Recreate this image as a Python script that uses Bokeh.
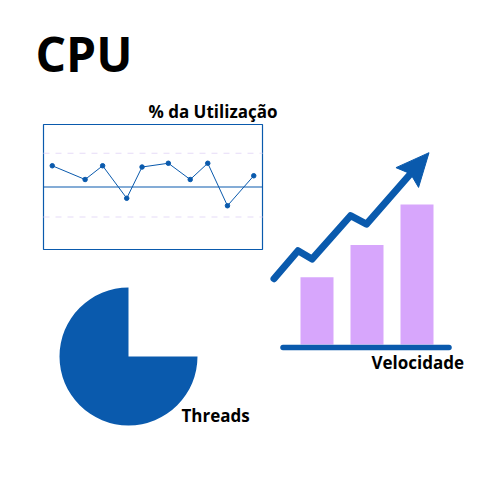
import math
from bokeh.plotting import figure
from bokeh.models import Range1d
from bokeh.core.properties import value
from bokeh.embed import file_html
from bokeh.resources import INLINE

# ---------------- data ----------------
title_text = "CPU"
util_title = "% da Utilização"
util_x = [4, 19, 27, 38, 45, 57, 67, 75, 84, 96]
util_y = [67, 56, 67, 41, 66, 69, 56, 69, 35, 59]
util_limits = [77, 50, 26]          # upper, centre, lower
threads_label = "Threads"
threads_share = [75, 25]            # used / free (%)
vel_label = "Velocidade"
vel_index = [1, 2, 3]
vel_values = [48, 71, 100]
trend_x = [0.14, 0.62, 0.90, 1.67, 1.99, 3.24]
trend_y = [47, 67, 61, 92, 86, 137]

BLUE = "#0a5aad"
PURPLE = "#d7a6fc"
DASH = "#e6dcf8"
FONT = value("Open Sans")

p = figure(width=500, height=500, output_backend="svg", toolbar_location=None,
           x_range=Range1d(0, 500), y_range=Range1d(0, 500), min_border=0)
p.axis.visible = False
p.grid.visible = False
p.outline_line_color = None
p.background_fill_color = "white"
p.border_fill_color = "white"

def Y(ypx):  # top-down pixel -> data
    return 500 - ypx

# ---------------- title ----------------
p.text(x=[35], y=[Y(53)], text=[title_text], text_font=FONT, text_font_style="bold",
       text_font_size="48px", text_color="black", text_baseline="alphabetic")

# ---------------- utilisation control chart ----------------
bx0, bx1, by0, by1 = 43, 262, 124, 249
def ux(v):
    return bx0 + (bx1 - bx0) * v / 100.0
def uy(v):
    return Y(by1 - (by1 - by0) * v / 100.0)

p.quad(left=[bx0], right=[bx1], top=[Y(by0)], bottom=[Y(by1)], fill_color=None,
       line_color=BLUE, line_width=1.2)
for i, lim in enumerate(util_limits):
    if i == 1:
        p.line([bx0, bx1], [uy(lim)] * 2, line_color=BLUE, line_width=1.2)
    else:
        p.line([bx0, bx1], [uy(lim)] * 2, line_color=DASH, line_width=1.2, line_dash="6 6")
p.line([ux(v) for v in util_x], [uy(v) for v in util_y], line_color=BLUE, line_width=1)
p.scatter([ux(v) for v in util_x], [uy(v) for v in util_y], size=4.5, fill_color=BLUE,
          line_color=BLUE)
p.text(x=[277], y=[Y(111)], text=[util_title], text_font=FONT, text_font_style="bold",
       text_font_size="17px", text_color="black", text_align="right",
       text_baseline="alphabetic")

# ---------------- threads pie ----------------
cx, cy, r = 128, 356, 69
start = math.pi / 2
sweep = 2 * math.pi * threads_share[0] / sum(threads_share)
p.wedge(x=[cx], y=[Y(cy)], radius=r, start_angle=start, end_angle=start + sweep,
        direction="anticlock", fill_color=BLUE, line_color=None)
p.text(x=[181], y=[Y(414.5)], text=[threads_label], text_font=FONT, text_font_style="bold",
       text_font_size="17px", text_color="black", text_baseline="alphabetic")

# ---------------- velocity bars ----------------
gx0, gstep, gbase, gscale = 266.5, 50.0, 344.0, 1.4
def vx(v):
    return gx0 + gstep * v
def vy(v):
    return Y(gbase - gscale * v)

bw = 0.66
p.quad(left=[vx(i - bw / 2) for i in vel_index], right=[vx(i + bw / 2) for i in vel_index],
       top=[vy(v) for v in vel_values], bottom=[vy(0)] * len(vel_index),
       fill_color=PURPLE, line_color=None)
p.line([vx(0.32), vx(3.64)], [Y(347)] * 2, line_color=BLUE, line_width=5.5, line_cap="round")

# trend arrow
px = [vx(v) for v in trend_x]
py = [vy(v) for v in trend_y]
tipx, tipy = px[-1], py[-1]
dx, dy = tipx - px[-2], tipy - py[-2]
L = math.hypot(dx, dy)
ux_, uy_ = dx / L, dy / L
hl, hw = 33, 15
basex, basey = tipx - ux_ * hl, tipy - uy_ * hl
shaft_x = px[:-1] + [tipx - ux_ * (hl - 4)]
shaft_y = py[:-1] + [tipy - uy_ * (hl - 4)]
p.line(shaft_x, shaft_y, line_color=BLUE, line_width=7, line_cap="round", line_join="round")
notch = 5
p.patch([tipx, basex - uy_ * hw, basex + ux_ * notch, basex + uy_ * hw],
        [tipy, basey + ux_ * hw, basey + uy_ * notch, basey - ux_ * hw],
        fill_color=BLUE, line_color=BLUE, line_width=1)

p.text(x=[371], y=[Y(362)], text=[vel_label], text_font=FONT, text_font_style="bold",
       text_font_size="17px", text_color="black", text_baseline="alphabetic")

open("out.html", "w").write(file_html(p, INLINE))
